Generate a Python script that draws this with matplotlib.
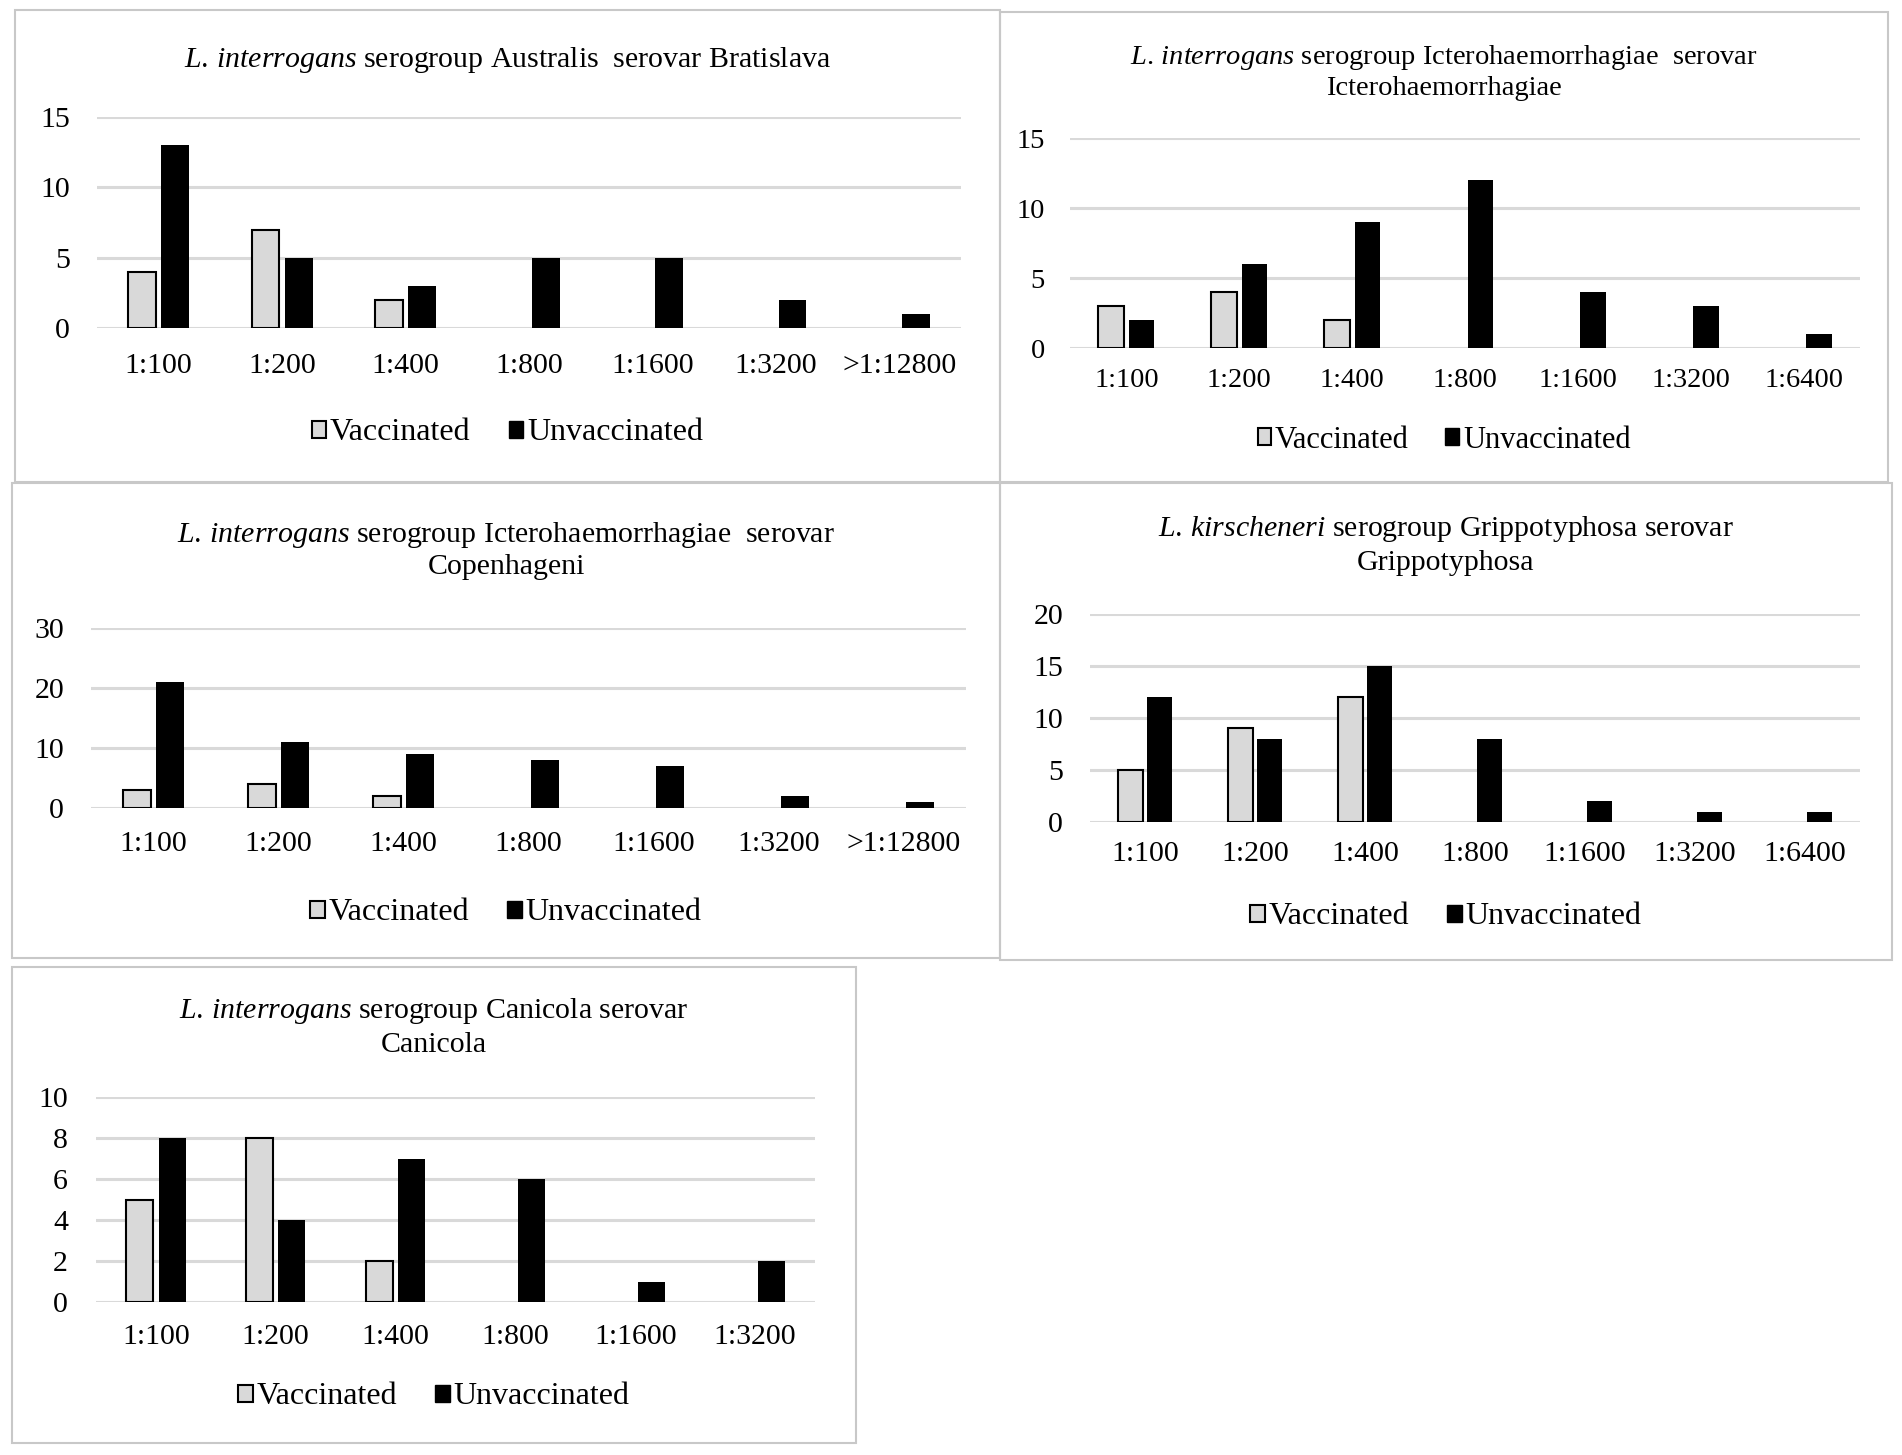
import matplotlib.pyplot as plt
from matplotlib.patches import Patch, Rectangle
import numpy as np

plt.rcParams['font.family'] = ['Liberation Serif', 'DejaVu Serif']
plt.rcParams['mathtext.fontset'] = 'custom'
plt.rcParams['mathtext.rm'] = 'Liberation Serif'
plt.rcParams['mathtext.it'] = 'Liberation Serif:italic'

# Data for each panel
titres_a = ['1:100', '1:200', '1:400', '1:800', '1:1600', '1:3200', '>1:12800']
titres_b = ['1:100', '1:200', '1:400', '1:800', '1:1600', '1:3200', '1:6400']
titres_c = ['1:100', '1:200', '1:400', '1:800', '1:1600', '1:3200']

bratislava_vacc = [4, 7, 2, 0, 0, 0, 0]
bratislava_unvacc = [13, 5, 3, 5, 5, 2, 1]

ictero_vacc = [3, 4, 2, 0, 0, 0, 0]
ictero_unvacc = [2, 6, 9, 12, 4, 3, 1]

copenhageni_vacc = [3, 4, 2, 0, 0, 0, 0]
copenhageni_unvacc = [21, 11, 9, 8, 7, 2, 1]

grippo_vacc = [5, 9, 12, 0, 0, 0, 0]
grippo_unvacc = [12, 8, 15, 8, 2, 1, 1]

canicola_vacc = [5, 8, 2, 0, 0, 0]
canicola_unvacc = [8, 4, 7, 6, 1, 2]

W, H = 1902, 1455
fig = plt.figure(figsize=(W / 100, H / 100), dpi=100)

light = '#d9d9d9'


def fx(px):
    return px / W


def fy(py):
    return 1 - py / H


def panel(border, box, title, title_y, labels, vacc, unvacc, yticks,
          label_off, ypad, legend_y, fs=21.5):
    # grey frame around the panel
    bx0, by0, bx1, by1 = border
    fig.patches.append(Rectangle((fx(bx0), fy(by1)), fx(bx1 - bx0), (by1 - by0) / H,
                                 transform=fig.transFigure, fill=False,
                                 edgecolor='#c8c8c8', linewidth=1.5))
    l, t, r, b = box
    ax = fig.add_axes([fx(l), fy(b), fx(r - l), (b - t) / H])
    x = np.arange(len(labels))
    edge_w = [1.5 if v > 0 else 0 for v in vacc]
    ax.bar(x - 0.135, vacc, 0.225, color=light, edgecolor='black',
           linewidth=edge_w, zorder=3)
    ax.bar(x + 0.135, unvacc, 0.225, color='black', zorder=3)
    ax.set_xlim(-0.5, len(labels) - 0.5)
    ax.set_ylim(0, yticks[-1])
    ax.set_yticks(yticks)
    ax.set_xticks(x, labels)
    ax.grid(axis='y', color=light, linewidth=2.2, zorder=0)
    for s in ax.spines.values():
        s.set_visible(False)
    ax.tick_params(axis='x', length=0, labelsize=fs, pad=(label_off - 14) / 1.389)
    ax.tick_params(axis='y', length=0, labelsize=fs, pad=ypad / 1.389)
    ax.set_facecolor('none')

    cx = (bx0 + bx1) / 2
    fig.text(fx(cx), fy(title_y), title, ha='center', va='center',
             fontsize=fs, linespacing=1.25)
    handles = [Patch(facecolor=light, edgecolor='black', linewidth=1.5),
               Patch(facecolor='black', edgecolor='black')]
    fig.legend(handles, ['Vaccinated', 'Unvaccinated'], loc='center',
               bbox_to_anchor=(fx(cx), fy(legend_y)), ncol=2, frameon=False,
               fontsize=fs + 1.5, handlelength=0.45, handleheight=0.45,
               handletextpad=0.12, columnspacing=1.2)
    return ax


panel((15, 10, 1000, 482), (97, 117, 961, 328),
      r'$\it{L.\,interrogans}$ serogroup Australis  serovar Bratislava', 60,
      titres_a, bratislava_vacc, bratislava_unvacc, [0, 5, 10, 15], 39, 27, 433)

panel((1000, 12, 1888, 482), (1070, 138, 1860, 348),
      '$\\it{L.\\,interrogans}$ serogroup Icterohaemorrhagiae  serovar\nIcterohaemorrhagiae', 72,
      titres_b, ictero_vacc, ictero_unvacc, [0, 5, 10, 15], 34, 25, 440, fs=20.5)

panel((12, 483, 1000, 958), (91, 628, 966, 808),
      '$\\it{L.\\,interrogans}$ serogroup Icterohaemorrhagiae  serovar\nCopenhageni', 550,
      titres_a, copenhageni_vacc, copenhageni_unvacc, [0, 10, 20, 30], 37, 27, 913)

panel((1000, 483, 1892, 960), (1090, 614, 1860, 822),
      '$\\it{L.\\,kirscheneri}$ serogroup Grippotyphosa serovar\nGrippotyphosa', 545,
      titres_b, grippo_vacc, grippo_unvacc, [0, 5, 10, 15, 20], 33, 27, 917)

panel((12, 967, 856, 1443), (96, 1097, 815, 1302),
      '$\\it{L.\\,interrogans}$ serogroup Canicola serovar\nCanicola', 1027,
      titres_c, canicola_vacc, canicola_unvacc, [0, 2, 4, 6, 8, 10], 36, 28, 1397)

fig.savefig('out.png', dpi=100, facecolor='white')
